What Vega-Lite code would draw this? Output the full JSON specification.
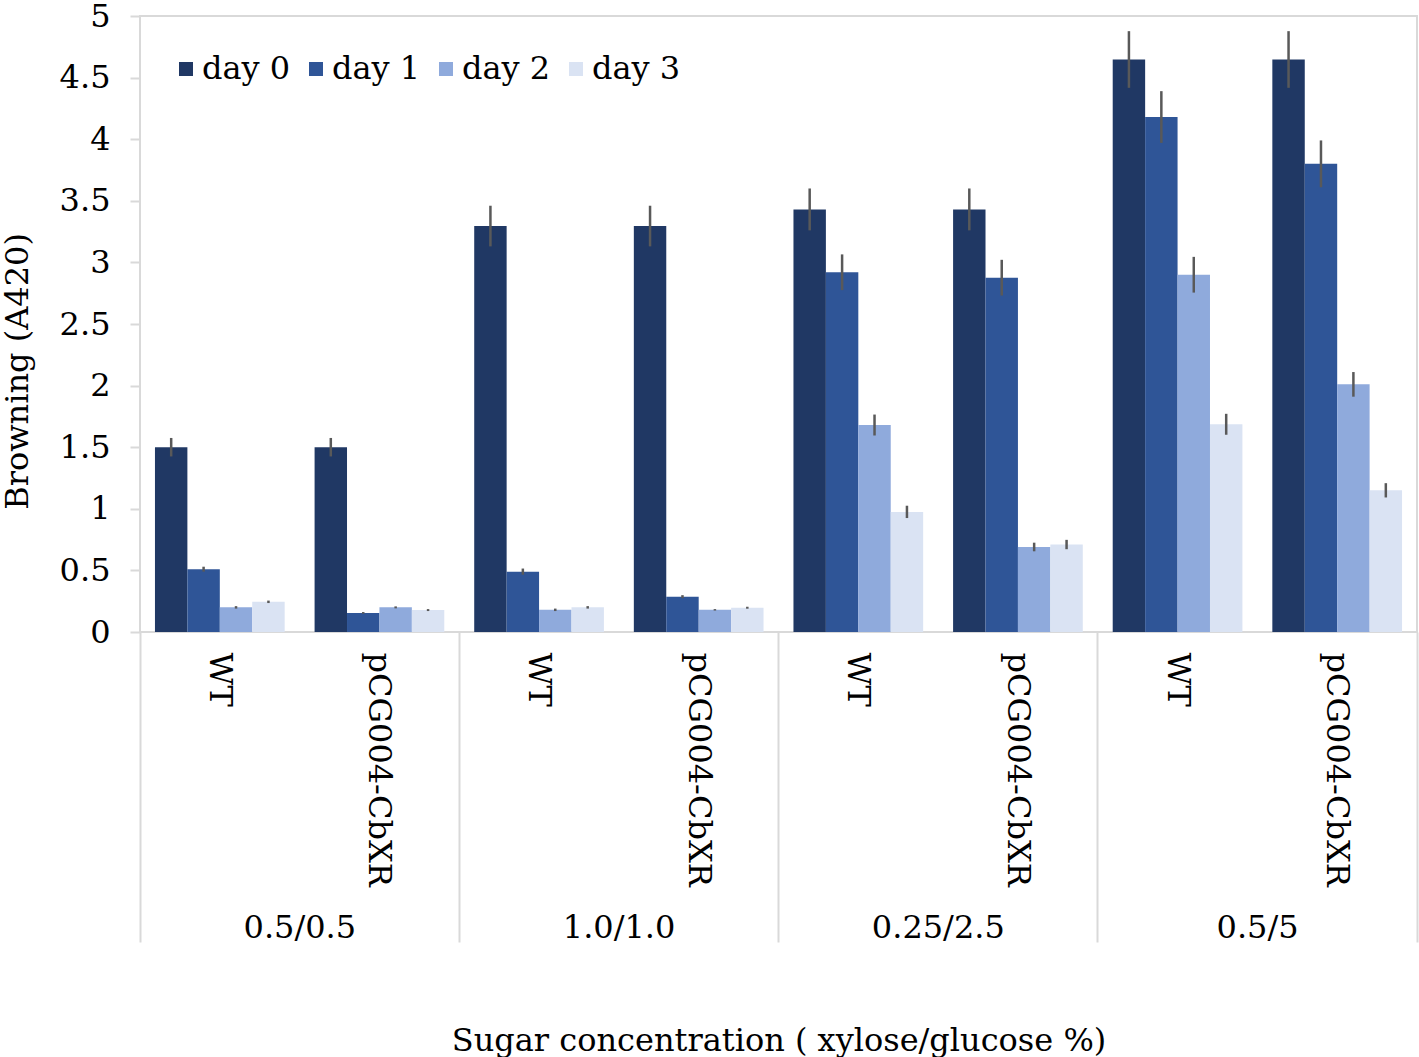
{
  "$schema": "https://vega.github.io/schema/vega-lite/v6.json",
  "autosize": {"type": "none"},
  "padding": {"left": 140, "top": 16, "right": 2, "bottom": 425},
  "width": 1277,
  "height": 616,
  "background": "white",
  "config": {
    "font": "DejaVu Serif",
    "view": {"stroke": "#d9d9d9", "strokeWidth": 2},
    "axis": {
      "labelFont": "DejaVu Serif",
      "titleFont": "DejaVu Serif",
      "labelColor": "#000000",
      "titleColor": "#000000",
      "labelFontSize": 32,
      "titleFontSize": 32,
      "titleFontWeight": "normal",
      "labelLimit": 0
    },
    "legend": {
      "labelFont": "DejaVu Serif",
      "labelFontSize": 32,
      "labelColor": "#000000",
      "labelLimit": 0
    }
  },
  "data": {
    "values": [
      {"sugar": "0.5/0.5", "strain": "WT", "key": "0.5/0.5|WT", "day": "day 0", "value": 1.5, "lo": 1.425, "hi": 1.575},
      {"sugar": "0.5/0.5", "strain": "WT", "key": "0.5/0.5|WT", "day": "day 1", "value": 0.51, "lo": 0.49, "hi": 0.53},
      {"sugar": "0.5/0.5", "strain": "WT", "key": "0.5/0.5|WT", "day": "day 2", "value": 0.2, "lo": 0.19, "hi": 0.21},
      {"sugar": "0.5/0.5", "strain": "WT", "key": "0.5/0.5|WT", "day": "day 3", "value": 0.245, "lo": 0.235, "hi": 0.255},
      {"sugar": "0.5/0.5", "strain": "pCG004-CbXR", "key": "0.5/0.5|pCG004-CbXR", "day": "day 0", "value": 1.5, "lo": 1.425, "hi": 1.575},
      {"sugar": "0.5/0.5", "strain": "pCG004-CbXR", "key": "0.5/0.5|pCG004-CbXR", "day": "day 1", "value": 0.155, "lo": 0.148, "hi": 0.162},
      {"sugar": "0.5/0.5", "strain": "pCG004-CbXR", "key": "0.5/0.5|pCG004-CbXR", "day": "day 2", "value": 0.2, "lo": 0.192, "hi": 0.208},
      {"sugar": "0.5/0.5", "strain": "pCG004-CbXR", "key": "0.5/0.5|pCG004-CbXR", "day": "day 3", "value": 0.178, "lo": 0.17, "hi": 0.186},
      {"sugar": "1.0/1.0", "strain": "WT", "key": "1.0/1.0|WT", "day": "day 0", "value": 3.295, "lo": 3.13, "hi": 3.46},
      {"sugar": "1.0/1.0", "strain": "WT", "key": "1.0/1.0|WT", "day": "day 1", "value": 0.49, "lo": 0.465, "hi": 0.515},
      {"sugar": "1.0/1.0", "strain": "WT", "key": "1.0/1.0|WT", "day": "day 2", "value": 0.18, "lo": 0.17, "hi": 0.19},
      {"sugar": "1.0/1.0", "strain": "WT", "key": "1.0/1.0|WT", "day": "day 3", "value": 0.2, "lo": 0.19, "hi": 0.21},
      {"sugar": "1.0/1.0", "strain": "pCG004-CbXR", "key": "1.0/1.0|pCG004-CbXR", "day": "day 0", "value": 3.295, "lo": 3.13, "hi": 3.46},
      {"sugar": "1.0/1.0", "strain": "pCG004-CbXR", "key": "1.0/1.0|pCG004-CbXR", "day": "day 1", "value": 0.287, "lo": 0.275, "hi": 0.299},
      {"sugar": "1.0/1.0", "strain": "pCG004-CbXR", "key": "1.0/1.0|pCG004-CbXR", "day": "day 2", "value": 0.18, "lo": 0.174, "hi": 0.186},
      {"sugar": "1.0/1.0", "strain": "pCG004-CbXR", "key": "1.0/1.0|pCG004-CbXR", "day": "day 3", "value": 0.197, "lo": 0.189, "hi": 0.205},
      {"sugar": "0.25/2.5", "strain": "WT", "key": "0.25/2.5|WT", "day": "day 0", "value": 3.43, "lo": 3.26, "hi": 3.6},
      {"sugar": "0.25/2.5", "strain": "WT", "key": "0.25/2.5|WT", "day": "day 1", "value": 2.92, "lo": 2.775, "hi": 3.065},
      {"sugar": "0.25/2.5", "strain": "WT", "key": "0.25/2.5|WT", "day": "day 2", "value": 1.68, "lo": 1.595, "hi": 1.765},
      {"sugar": "0.25/2.5", "strain": "WT", "key": "0.25/2.5|WT", "day": "day 3", "value": 0.975, "lo": 0.925, "hi": 1.025},
      {"sugar": "0.25/2.5", "strain": "pCG004-CbXR", "key": "0.25/2.5|pCG004-CbXR", "day": "day 0", "value": 3.43, "lo": 3.26, "hi": 3.6},
      {"sugar": "0.25/2.5", "strain": "pCG004-CbXR", "key": "0.25/2.5|pCG004-CbXR", "day": "day 1", "value": 2.876, "lo": 2.731, "hi": 3.021},
      {"sugar": "0.25/2.5", "strain": "pCG004-CbXR", "key": "0.25/2.5|pCG004-CbXR", "day": "day 2", "value": 0.69, "lo": 0.655, "hi": 0.725},
      {"sugar": "0.25/2.5", "strain": "pCG004-CbXR", "key": "0.25/2.5|pCG004-CbXR", "day": "day 3", "value": 0.71, "lo": 0.672, "hi": 0.748},
      {"sugar": "0.5/5", "strain": "WT", "key": "0.5/5|WT", "day": "day 0", "value": 4.647, "lo": 4.417, "hi": 4.877},
      {"sugar": "0.5/5", "strain": "WT", "key": "0.5/5|WT", "day": "day 1", "value": 4.18, "lo": 3.97, "hi": 4.39},
      {"sugar": "0.5/5", "strain": "WT", "key": "0.5/5|WT", "day": "day 2", "value": 2.9, "lo": 2.755, "hi": 3.045},
      {"sugar": "0.5/5", "strain": "WT", "key": "0.5/5|WT", "day": "day 3", "value": 1.686, "lo": 1.601, "hi": 1.771},
      {"sugar": "0.5/5", "strain": "pCG004-CbXR", "key": "0.5/5|pCG004-CbXR", "day": "day 0", "value": 4.647, "lo": 4.417, "hi": 4.877},
      {"sugar": "0.5/5", "strain": "pCG004-CbXR", "key": "0.5/5|pCG004-CbXR", "day": "day 1", "value": 3.8, "lo": 3.61, "hi": 3.99},
      {"sugar": "0.5/5", "strain": "pCG004-CbXR", "key": "0.5/5|pCG004-CbXR", "day": "day 2", "value": 2.01, "lo": 1.91, "hi": 2.11},
      {"sugar": "0.5/5", "strain": "pCG004-CbXR", "key": "0.5/5|pCG004-CbXR", "day": "day 3", "value": 1.15, "lo": 1.092, "hi": 1.208}
    ]
  },
  "resolve": {"axis": {"x": "independent"}},
  "layer": [
    {
      "mark": {"type": "bar"},
      "encoding": {
        "x": {
          "field": "key",
          "type": "nominal",
          "sort": null,
          "scale": {"paddingInner": 0, "paddingOuter": 0},
          "axis": {
            "orient": "bottom",
            "domain": false,
            "ticks": true,
            "tickSize": 310,
            "tickColor": "#d9d9d9",
            "tickWidth": 2,
            "tickOpacity": {"condition": {"test": "datum.extra || test(/CbXR$/, datum.value)", "value": 1}, "value": 0},
            "bandPosition": 1,
            "tickExtra": true,
            "labelExpr": "test(/WT$/, datum.value) ? split(datum.value, '|')[0] : ''",
            "labelAngle": 0,
            "labelAlign": "center",
            "labelBaseline": "alphabetic",
            "labelOffset": 80,
            "labelPadding": -5,
            "labelBound": false,
            "labelOverlap": false,
            "title": "Sugar concentration ( xylose/glucose %)",
            "titleY": 418,
            "titleBaseline": "alphabetic"
          }
        },
        "xOffset": {
          "field": "day",
          "type": "nominal",
          "sort": ["day 0", "day 1", "day 2", "day 3"],
          "scale": {"paddingInner": 0, "paddingOuter": 0.4615}
        },
        "y": {
          "field": "value",
          "type": "quantitative",
          "scale": {"domain": [0, 5], "nice": false, "zero": true},
          "axis": {
            "values": [0, 0.5, 1, 1.5, 2, 2.5, 3, 3.5, 4, 4.5, 5],
            "format": "~g",
            "domain": false,
            "grid": false,
            "tickColor": "#d9d9d9",
            "tickSize": 10,
            "tickWidth": 2,
            "labelPadding": 20,
            "title": "Browning (A420)",
            "titleAngle": -90,
            "titleX": -113,
            "titleY": 355,
            "titleBaseline": "alphabetic",
            "titleAlign": "center"
          }
        },
        "color": {
          "field": "day",
          "type": "nominal",
          "sort": ["day 0", "day 1", "day 2", "day 3"],
          "scale": {"domain": ["day 0", "day 1", "day 2", "day 3"], "range": ["#203864", "#2F5597", "#8FAADC", "#DAE3F3"]},
          "legend": {
            "title": null,
            "orient": "none",
            "legendX": 30,
            "legendY": 37,
            "direction": "horizontal",
            "columns": 4,
            "symbolType": "square",
            "symbolSize": 196,
            "symbolStrokeWidth": 0,
            "labelOffset": 0,
            "columnPadding": 9
          }
        }
      }
    },
    {
      "mark": {"type": "rule", "color": "#595959", "strokeWidth": 2.5},
      "encoding": {
        "x": {
          "field": "key",
          "type": "nominal",
          "sort": null,
          "scale": {"paddingInner": 0, "paddingOuter": 0},
          "axis": {
            "orient": "bottom",
            "domain": false,
            "ticks": false,
            "labelExpr": "split(datum.value, '|')[1]",
            "labelAngle": 90,
            "labelAlign": "left",
            "labelBaseline": "middle",
            "labelPadding": 20,
            "labelBound": false,
            "labelOverlap": false,
            "labelLimit": 0,
            "title": null
          }
        },
        "xOffset": {
          "field": "day",
          "type": "nominal",
          "sort": ["day 0", "day 1", "day 2", "day 3"],
          "scale": {"paddingInner": 0, "paddingOuter": 0.4615}
        },
        "y": {
          "field": "lo",
          "type": "quantitative",
          "scale": {"domain": [0, 5], "nice": false, "zero": true},
          "axis": {
            "values": [0, 0.5, 1, 1.5, 2, 2.5, 3, 3.5, 4, 4.5, 5],
            "format": "~g",
            "domain": false,
            "grid": false,
            "tickColor": "#d9d9d9",
            "tickSize": 10,
            "tickWidth": 2,
            "labelPadding": 20,
            "title": "Browning (A420)",
            "titleAngle": -90,
            "titleX": -113,
            "titleY": 355,
            "titleBaseline": "alphabetic",
            "titleAlign": "center"
          }
        },
        "y2": {"field": "hi"}
      }
    }
  ]
}
